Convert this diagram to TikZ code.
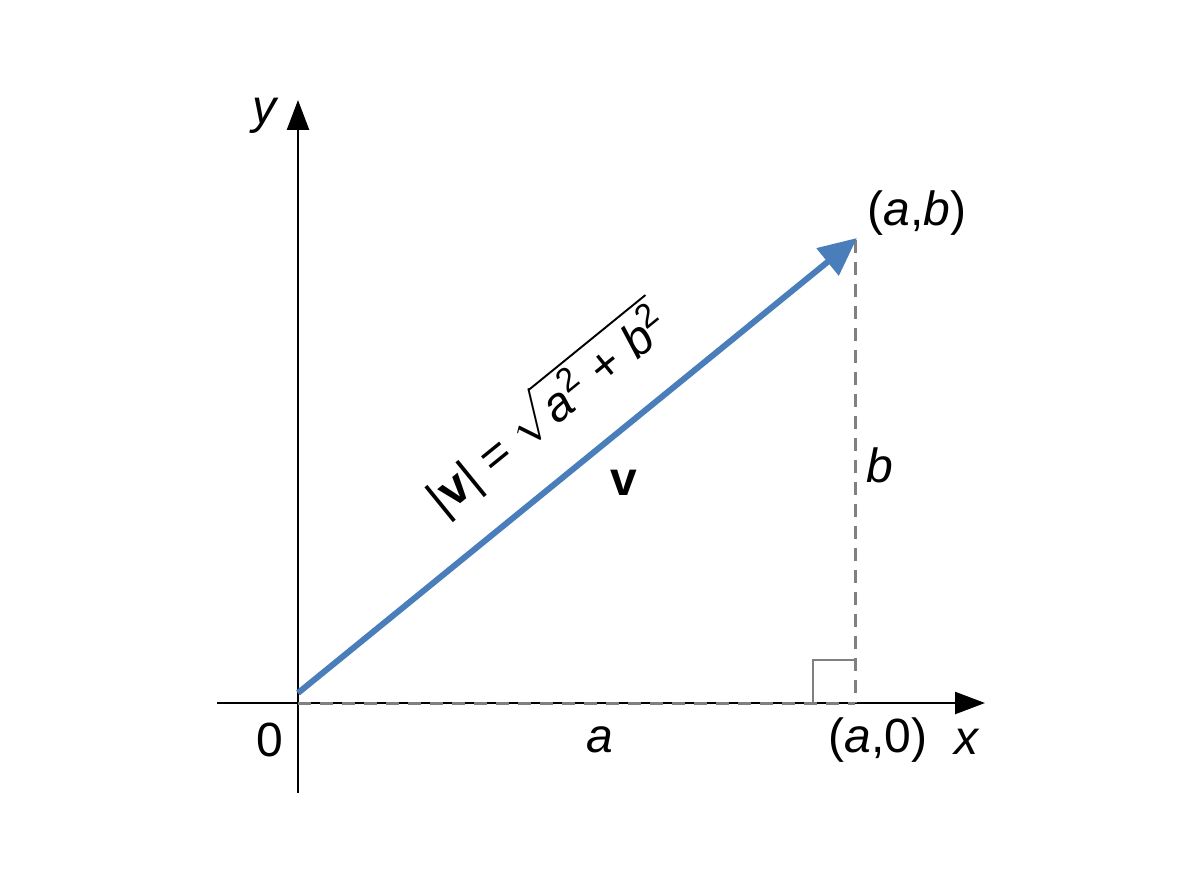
\documentclass[tikz,border=0pt]{standalone}
\usepackage{fontspec}
\setmainfont{Liberation Sans}
\usepackage{graphicx}
\usetikzlibrary{arrows.meta}
\definecolor{vecblue}{RGB}{74,126,187}
\definecolor{dashgray}{RGB}{128,128,128}
\tikzset{
  axis/.style={line width=2.5pt, black, -{Triangle[length=30pt,width=22pt]}},
  guide/.style={line width=3pt, dashgray, dash pattern=on 13pt off 9pt},
  vecline/.style={line width=6pt, vecblue, -{Triangle[length=38pt,width=34pt]}},
  lbl/.style={font=\fontsize{48}{56}\selectfont, inner sep=0pt},
}
\begin{document}
\begin{tikzpicture}[x=1pt,y=-1pt]
\useasboundingbox (0,0) rectangle (1200,896);
\coordinate (O) at (298,703);
\coordinate (Ov) at (298,693);
\coordinate (P) at (857,238);
\coordinate (Pd) at (855,240);
\coordinate (A) at (855,703);
\coordinate (xs) at (217,703);
\coordinate (xe) at (985,703);
\coordinate (ys) at (298,793);
\coordinate (ye) at (298,100);
\coordinate (r1) at (813,703);
\coordinate (r2) at (813,660);
\coordinate (r3) at (855,660);
% axes
\draw[axis] (xs) -- (xe);
\draw[axis] (ys) -- (ye);
% guides
\draw[guide] (O) -- (A);
\draw[guide] (Pd) -- (A);
\draw[line width=2.5pt, dashgray] (r1) -- (r2) -- (r3);
% vector
\draw[vecline] (Ov) -- (P);
% labels
\node[lbl] (ly) at (266,116) {\textit{y}};
\node[lbl] (lx) at (967,742) {\textit{x}};
\node[lbl] (l0) at (270,740) {0};
\node[lbl] (la) at (600,740) {\textit{a}};
\node[lbl] (la0) at (878,740) {(\textit{a},0)};
\node[lbl] (lab) at (917,213) {(\textit{a},\textit{b})};
\node[lbl] (lb) at (880,465) {\textit{b}};
\node[lbl] (lv) at (624,483) {\textbf{v}};
\node[lbl, rotate=39.1] (lnorm) at (547,409)
  {\scalebox{4.8}{\fontsize{10}{12}\selectfont |\textbf{v}| = $\sqrt{\mbox{\fontsize{10}{12}\selectfont\textit{a}\textsuperscript{2} + \textit{b}\textsuperscript{2}}}$}};
\end{tikzpicture}
\end{document}
